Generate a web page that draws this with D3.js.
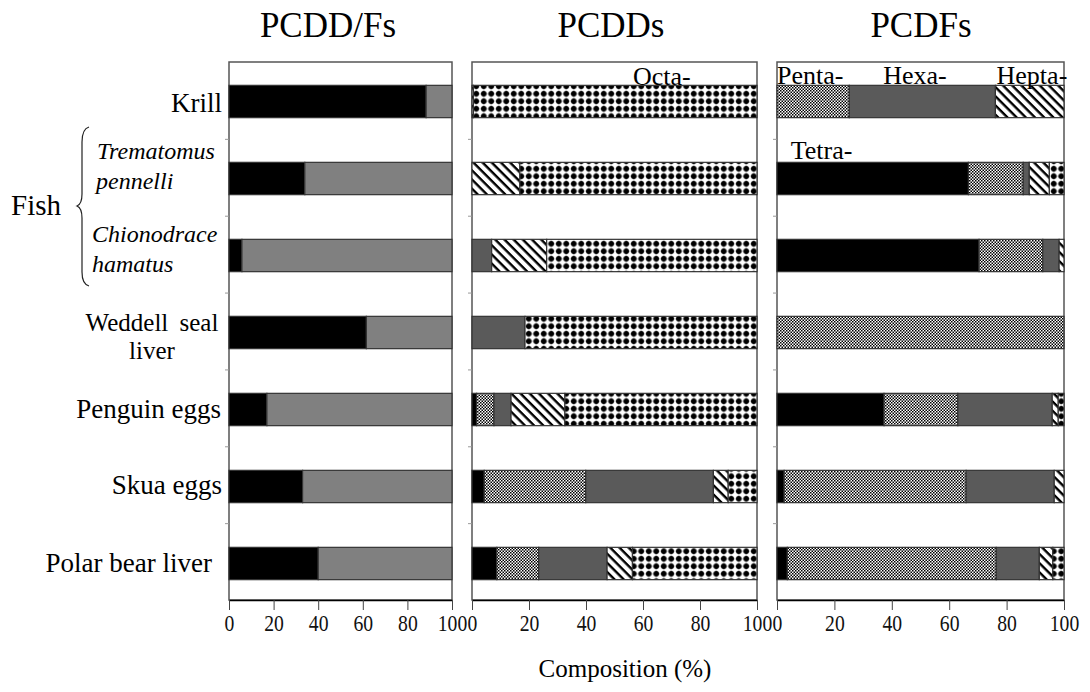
<!DOCTYPE html>
<html>
<head>
<meta charset="utf-8">
<script src="https://cdnjs.cloudflare.com/ajax/libs/d3/7.8.5/d3.min.js"></script>
<style>
  body { margin: 0; background: #fff; }
  svg text { font-family: "Liberation Serif", "Times New Roman", serif; }
</style>
</head>
<body>
<svg id="chart" width="1090" height="692"></svg>
<script>
// samples, top to bottom
var samples = ["Krill", "Trematomus pennelli", "Chionodrace hamatus", "Weddell seal liver",
               "Penguin eggs", "Skua eggs", "Polar bear liver"];
var xTicks = [0, 20, 40, 60, 80, 100];

// PCDD/Fs panel: share of PCDDs (black), rest PCDFs (gray)
var pcddShare = [88.4, 34, 5.8, 61.6, 17, 33, 40];

// PCDDs homologue composition (%)
var pcddTetra = [0, 0, 0, 0, 1.6, 4.3, 8.7];
var pcddPenta = [0, 0, 0, 0, 6.1, 35.6, 14.7];
var pcddHexa  = [0, 0, 6.9, 18.6, 6.0, 44.8, 24.0];
var pcddHepta = [0.5, 16.8, 19.3, 0, 18.9, 5.2, 8.9];
var pcddOcta  = [99.5, 83.2, 73.8, 81.4, 67.4, 10.1, 43.7];

// PCDFs homologue composition (%)
var pcdfTetra = [0, 66.7, 70.4, 0, 37.3, 2.5, 3.6];
var pcdfPenta = [25.2, 19.1, 22.2, 100, 25.7, 63.4, 72.8];
var pcdfHexa  = [50.9, 2.1, 5.7, 0, 32.9, 30.7, 15.0];
var pcdfHepta = [23.9, 7.0, 1.7, 0, 2.1, 3.4, 4.7];
var pcdfOcta  = [0, 5.1, 0, 0, 2.0, 0, 3.9];

var homologues = ["Tetra-", "Penta-", "Hexa-", "Hepta-", "Octa-"];

var svg = d3.select("#chart");
var top0 = 62, bottom0 = 600;

var y = d3.scaleBand()
    .domain(samples)
    .range([63, 602])
    .paddingInner(0.58)
    .paddingOuter(0.29);
var rowEdge = d3.scaleLinear().domain([0, 7]).range([top0, bottom0]);

// patterns
var defs = svg.append("defs");
var pChk = defs.append("pattern").attr("id", "checker").attr("patternUnits", "userSpaceOnUse")
    .attr("width", 3).attr("height", 3);
pChk.append("rect").attr("width", 3).attr("height", 3).attr("fill", "#fff");
pChk.append("rect").attr("width", 1.5).attr("height", 1.5).attr("fill", "#000");
pChk.append("rect").attr("x", 1.5).attr("y", 1.5).attr("width", 1.5).attr("height", 1.5).attr("fill", "#000");

var pHatch = defs.append("pattern").attr("id", "hatch").attr("patternUnits", "userSpaceOnUse")
    .attr("width", 6.5).attr("height", 6.5).attr("patternTransform", "rotate(45)");
pHatch.append("rect").attr("width", 6.5).attr("height", 6.5).attr("fill", "#fff");
pHatch.append("rect").attr("width", 6.5).attr("height", 2.4).attr("fill", "#000");

var pDot = defs.append("pattern").attr("id", "dots").attr("patternUnits", "userSpaceOnUse")
    .attr("width", 7.5).attr("height", 7.5);
pDot.append("rect").attr("width", 7.5).attr("height", 7.5).attr("fill", "#fff");
pDot.append("path").attr("d", "M0,3.75H7.5M3.75,0V7.5").attr("stroke", "#666").attr("stroke-width", 0.6);
pDot.append("circle").attr("cx", 3.75).attr("cy", 3.75).attr("r", 2.8).attr("fill", "#000");

var homFill = {"Tetra-": "#000", "Penta-": "url(#checker)", "Hexa-": "#5a5a5a",
               "Hepta-": "url(#hatch)", "Octa-": "url(#dots)"};

var panels = [
    {title: "PCDD/Fs", x0: 229, x1: 452, tx: 328},
    {title: "PCDDs", x0: 472, x1: 757, tx: 611},
    {title: "PCDFs", x0: 777, x1: 1064, tx: 921}
];

panels.forEach(function(p) {
    p.x = d3.scaleLinear().domain([0, 100]).range([p.x0, p.x1]);
    var g = svg.append("g");
    p.g = g;
    g.append("rect")
        .attr("x", p.x0).attr("y", top0)
        .attr("width", p.x1 - p.x0).attr("height", bottom0 - top0)
        .attr("fill", "#fff").attr("stroke", "#555").attr("stroke-width", 1.5);
    g.append("text")
        .attr("x", p.tx).attr("y", 37)
        .attr("text-anchor", "middle")
        .style("font-size", "35px")
        .text(p.title);
});

function drawStack(p, arrays) {
    var rows = samples.map(function(s, i) {
        var r = {sample: s};
        homologues.forEach(function(h, k) { r[h] = arrays[k][i]; });
        return r;
    });
    var series = d3.stack().keys(homologues)(rows);
    p.g.selectAll("g.layer")
        .data(series)
        .enter().append("g")
        .attr("class", "layer")
        .attr("fill", function(d) { return homFill[d.key]; })
        .selectAll("rect")
        .data(function(d) { return d.filter(function(v) { return v[1] - v[0] > 0; }); })
        .enter().append("rect")
        .attr("x", function(d) { return p.x(d[0]); })
        .attr("width", function(d) { return p.x(d[1]) - p.x(d[0]); })
        .attr("y", function(d) { return y(d.data.sample); })
        .attr("height", y.bandwidth())
        .attr("stroke", "#333")
        .attr("stroke-width", 1.2);
}

// panel 1
var p1rows = samples.map(function(s, i) { return {sample: s, a: pcddShare[i], b: 100 - pcddShare[i]}; });
var p1series = d3.stack().keys(["a", "b"])(p1rows);
var p1fill = {a: "#000", b: "#808080"};
panels[0].g.selectAll("g.layer")
    .data(p1series)
    .enter().append("g")
    .attr("class", "layer")
    .attr("fill", function(d) { return p1fill[d.key]; })
    .selectAll("rect")
    .data(function(d) { return d; })
    .enter().append("rect")
    .attr("x", function(d) { return panels[0].x(d[0]); })
    .attr("width", function(d) { return panels[0].x(d[1]) - panels[0].x(d[0]); })
    .attr("y", function(d) { return y(d.data.sample); })
    .attr("height", y.bandwidth())
    .attr("stroke", "#333")
    .attr("stroke-width", 1.2);

drawStack(panels[1], [pcddTetra, pcddPenta, pcddHexa, pcddHepta, pcddOcta]);
drawStack(panels[2], [pcdfTetra, pcdfPenta, pcdfHexa, pcdfHepta, pcdfOcta]);

// axes
panels.forEach(function(p) {
    var ax = p.g.append("g")
        .attr("transform", "translate(0," + bottom0 + ")")
        .call(d3.axisBottom(p.x).tickValues(xTicks).tickSize(10).tickSizeOuter(0));
    ax.attr("font-family", null).attr("font-size", null);
    ax.select(".domain").attr("stroke", "#000").attr("stroke-width", 1.5);
    ax.selectAll(".tick line").attr("stroke", "#444");
    ax.selectAll(".tick text")
        .attr("y", 14)
        .attr("transform", "scale(0.82,1)")
        .style("font-size", "24px")
        .attr("fill", "#111");
    var ay = p.g.append("g")
        .attr("transform", "translate(" + p.x0 + ",0)")
        .call(d3.axisLeft(rowEdge).tickValues([1, 2, 3, 4, 5, 6]).tickSize(4).tickFormat(""));
    ay.select(".domain").remove();
    ay.selectAll(".tick line").attr("stroke", "#999");
});

// row labels
function rowLabel(txt, x, anchor, size, italic) {
    return svg.append("text")
        .attr("x", x)
        .attr("text-anchor", anchor)
        .style("font-size", size)
        .style("font-style", italic ? "italic" : "normal")
        .text(txt);
}
var cy = function(i) { return y(samples[i]) + y.bandwidth() / 2; };
rowLabel("Krill", 222, "end", "27px").attr("y", cy(0) + 10);
rowLabel("Trematomus", 97, "start", "24px", true).attr("y", cy(1) - 20);
rowLabel("pennelli", 96, "start", "24px", true).attr("y", cy(1) + 10);
rowLabel("Chionodrace", 92, "start", "24px", true).attr("y", cy(2) - 14);
rowLabel("hamatus", 92, "start", "24px", true).attr("y", cy(2) + 16);
rowLabel("Weddell seal", 152, "middle", "25px").attr("y", cy(3) - 2).style("word-spacing", "5px");
rowLabel("liver", 152, "middle", "25px").attr("y", cy(3) + 26);
rowLabel("Penguin eggs", 221, "end", "27px").attr("y", cy(4) + 8);
rowLabel("Skua eggs", 222, "end", "27px").attr("y", cy(5) + 7);
rowLabel("Polar bear liver", 212, "end", "27px").attr("y", cy(6) + 8);

svg.append("text")
    .attr("x", 11).attr("y", 215)
    .style("font-size", "29px")
    .text("Fish");
svg.append("path")
    .attr("d", "M89,127 Q82,129 82,142 L82,194 Q82,204 77,206 Q82,208 82,218 L82,272 Q82,284 89,286")
    .attr("fill", "none")
    .attr("stroke", "#222")
    .attr("stroke-width", 1.2);

// homologue annotations
function annot(p, txt, v, yy) {
    svg.append("text")
        .attr("x", p.x(v)).attr("y", yy)
        .style("font-size", "26px")
        .text(txt);
}
annot(panels[2], "Penta-", 0, 84);
annot(panels[2], "Hexa-", 37, 84);
annot(panels[2], "Hepta-", 76.5, 84);
annot(panels[1], "Octa-", 56.5, 85);
annot(panels[2], "Tetra-", 4.8, 159);

svg.append("text")
    .attr("x", 625).attr("y", 677)
    .attr("text-anchor", "middle")
    .style("font-size", "25px")
    .text("Composition (%)");
</script>
</body>
</html>
